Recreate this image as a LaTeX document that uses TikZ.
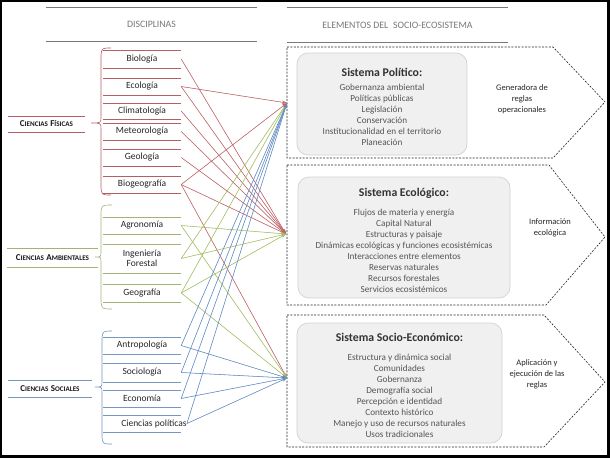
\documentclass[tikz,border=0pt]{standalone}
\usepackage{fontspec}
\setmainfont{Carlito}
\usetikzlibrary{arrows.meta}
\definecolor{fis}{RGB}{192,100,105}
\definecolor{amb}{RGB}{165,192,100}
\definecolor{soc}{RGB}{100,140,195}
\definecolor{fisl}{RGB}{180,95,100}
\definecolor{ambl}{RGB}{160,180,120}
\definecolor{socl}{RGB}{120,150,190}
\definecolor{hdr}{RGB}{120,120,120}
\definecolor{boxfill}{RGB}{240,240,240}
\definecolor{boxdraw}{RGB}{210,210,210}
\definecolor{itemc}{RGB}{85,85,85}
\newcommand\mysc[2]{{\fontsize{9}{10}\selectfont #1}{\fontsize{7.1}{8}\selectfont #2}}
\begin{document}
\begin{tikzpicture}[x=1pt,y=-1pt,
  lined/.style={inner sep=0pt,
    append after command={(\tikzlastnode.north west) edge[draw=#1,line width=0.6pt] (\tikzlastnode.north east)
      (\tikzlastnode.south west) edge[draw=#1,line width=0.6pt] (\tikzlastnode.south east)}},
  hlined/.style={inner sep=0pt,
    append after command={(\tikzlastnode.north west) edge[draw=#1,line width=1.3pt] (\tikzlastnode.north east)
      (\tikzlastnode.south west) edge[draw=#1,line width=1.3pt] (\tikzlastnode.south east)}},
  disc/.style={lined=#1, minimum width=78pt, font=\fontsize{9.5}{10.5}\selectfont, text=black!85, align=center},
  lab/.style={lined=#1, text=black!90},
  hdrtext/.style={hlined=hdr, font=\fontsize{9.8}{11}\selectfont, text=hdr},
  panel/.style={draw=black!85, line width=0.6pt, dash pattern=on 2pt off 1.4pt},
  sbox/.style={draw=boxdraw, fill=boxfill, rounded corners=11pt, line width=0.7pt},
  stitle/.style={font=\bfseries\fontsize{11.8}{13}\selectfont, text=black!80},
  items/.style={font=\fontsize{9.2}{11}\selectfont, text=itemc, align=center, inner sep=0pt},
  side/.style={font=\fontsize{8.5}{11}\selectfont, text=black!85, align=center, inner sep=0pt},
  conn/.style={line width=0.55pt, -{Stealth[length=5pt,width=3.5pt]}},
  fisc/.style={conn, draw=fis, fill=fis},
  ambc/.style={conn, draw=amb, fill=amb},
  socc/.style={conn, draw=soc, fill=soc},
  bracefis/.style={draw=fisl, line width=0.6pt},
  braceamb/.style={draw=ambl, line width=0.6pt},
  bracesoc/.style={draw=socl, line width=0.6pt}
]
\useasboundingbox (0,0) rectangle (610,458);
\fill[black] (0,0) rectangle (610,458);
\fill[white] (1.5,1.5) rectangle (606.5,455);

% headers
\node[hdrtext, minimum width=211pt, minimum height=33pt] (hdis) at (151.5,24.5) {DISCIPLINAS};
\node[hdrtext, minimum width=221pt, minimum height=34pt] (hele) at (397.5,25) {ELEMENTOS DEL\enspace SOCIO-ECOSISTEMA};

% panels
\draw[panel] (287,47) -- (553,47) -- (605,102) -- (553,158) -- (287,158) -- cycle;
\draw[panel] (287,165) -- (549,165) -- (605,237) -- (546,305) -- (287,305) -- cycle;
\draw[panel] (287,315) -- (544,315) -- (605,382) -- (544,447) -- (287,447) -- cycle;
\coordinate (polT) at (287,103);
\coordinate (ecoT) at (286,234);
\coordinate (socT) at (287,378);

% inner boxes
\node[sbox, minimum width=170pt, minimum height=102pt] (polbox) at (382,104) {};
\node[sbox, minimum width=212pt, minimum height=121pt] (ecobox) at (404,237.5) {};
\node[sbox, minimum width=205pt, minimum height=120pt] (socbox) at (399.5,383) {};

\node[stitle] (poltit) at (382,72) {Sistema Político:};
\node[stitle] (ecotit) at (404,193) {Sistema Ecológico:};
\node[stitle] (soctit) at (399.5,337) {Sistema Socio-Económico:};

\node[items] (politems) at (382,114.5) {Gobernanza ambiental\\Políticas públicas\\Legislación\\Conservación\\Institucionalidad en el territorio\\Planeación};
\node[items] (ecoitems) at (404,251) {Flujos de materia y energía\\Capital Natural\\Estructuras y paisaje\\Dinámicas ecológicas y funciones ecosistémicas\\Interacciones entre elementos\\Reservas naturales\\Recursos forestales\\Servicios ecosistémicos};
\node[items] (socitems) at (399.5,396) {Estructura y dinámica social\\Comunidades\\Gobernanza\\Demografía social\\Percepción e identidad\\Contexto histórico\\Manejo y uso de recursos naturales\\Usos tradicionales};

\node[side] (polside) at (522,99.5) {Generadora de\\reglas\\operacionales};
\node[side] (ecoside) at (550,228) {Información\\ecológica};
\node[side] (socside) at (537,374.5) {Aplicación y\\ejecución de las\\reglas};

% category labels
\node[lab=fisl, minimum width=77pt, minimum height=16pt] (lfis) at (46.5,124) {\textbf{\mysc{C}{IENCIAS} \mysc{F}{ÍSICAS}}};
\node[lab=ambl, minimum width=90pt, minimum height=19pt] (lamb) at (52.5,257.5) {\textbf{\mysc{C}{IENCIAS} \mysc{A}{MBIENTALES}}};
\node[lab=socl, minimum width=84pt, minimum height=17pt] (lsoc) at (50,388.5) {\textbf{\mysc{C}{IENCIAS} \mysc{S}{OCIALES}}};

% braces
\draw[bracefis] (111,48) .. controls (102,48) .. (101,55) -- (101,117) .. controls (101,123) .. (91,123) .. controls (101,123) .. (101,129) -- (101,188) .. controls (102,195) .. (111,195);
\draw[braceamb] (112,205) .. controls (102,205) .. (101,212) -- (101,251) .. controls (101,257) .. (95,257) .. controls (101,257) .. (101,263) -- (101,302) .. controls (102,309) .. (112,309);
\draw[bracesoc] (112,331) .. controls (103,331) .. (102,338) -- (102,381) .. controls (102,387) .. (95,387) .. controls (102,387) .. (102,393) -- (102,437) .. controls (103,444) .. (112,444);

% disciplines
\node[disc=fisl, minimum height=18pt] (bio) at (142,59) {Biología};
\node[disc=fisl, minimum height=17pt] (ecol) at (142,86.5) {Ecología};
\node[disc=fisl, minimum height=16pt] (cli) at (142,111) {Climatología};
\node[disc=fisl, minimum height=17pt] (met) at (142,131.5) {Meteorología};
\node[disc=fisl, minimum height=17pt] (geo) at (142,157.5) {Geología};
\node[disc=fisl, minimum height=17pt] (biog) at (142,184.5) {Biogeografía};
\node[disc=ambl, minimum height=17pt] (agr) at (142,225.5) {Agronomía};
\node[disc=ambl, minimum height=29pt] (ing) at (142,258.5) {Ingeniería\\Forestal};
\node[disc=ambl, minimum height=18pt] (geog) at (142,293) {Geografía};
\node[disc=socl, minimum height=17pt] (ant) at (142,345.5) {Antropología};
\node[disc=socl, minimum height=19pt] (socl) at (142,372.5) {Sociología};
\node[disc=socl, minimum height=17pt] (econ) at (142,398.5) {Economía};
\node[disc=socl, minimum height=17pt] (cpo) at (142,423.5) {};
\node[font=\fontsize{9.5}{10.5}\selectfont, text=black!85, inner sep=0pt] (cpot) at (154,423.5) {Ciencias políticas};

% connectors
\draw[fisc] (bio.east) -- (ecoT);
\draw[fisc] (ecol.east) -- (ecoT);
\draw[fisc] (cli.east) -- (ecoT);
\draw[fisc] (met.east) -- (ecoT);
\draw[fisc] (geo.east) -- (ecoT);
\draw[fisc] (biog.east) -- (ecoT);
\draw[fisc] (biog.east) -- (socT);
\draw[ambc] (agr.east) -- (ecoT);
\draw[ambc] (agr.east) -- (socT);
\draw[ambc] (ing.east) -- (polT);
\draw[ambc] (ing.east) -- (ecoT);
\draw[ambc] (geog.east) -- (polT);
\draw[ambc] (geog.east) -- (ecoT);
\draw[ambc] (geog.east) -- (socT);
\draw[socc] (ant.east) -- (polT);
\draw[socc] (socl.east) -- (polT);
\draw[socc] (econ.east) -- (polT);
\draw[socc] (cpot.east) -- (polT);
\draw[socc] (ant.east) -- (socT);
\draw[socc] (socl.east) -- (socT);
\draw[socc] (econ.east) -- (socT);
\draw[socc] (cpot.east) -- (socT);
\draw[fisc] (ecol.east) -- (polT);
\draw[fisc] (biog.east) -- (polT);
\end{tikzpicture}
\end{document}
